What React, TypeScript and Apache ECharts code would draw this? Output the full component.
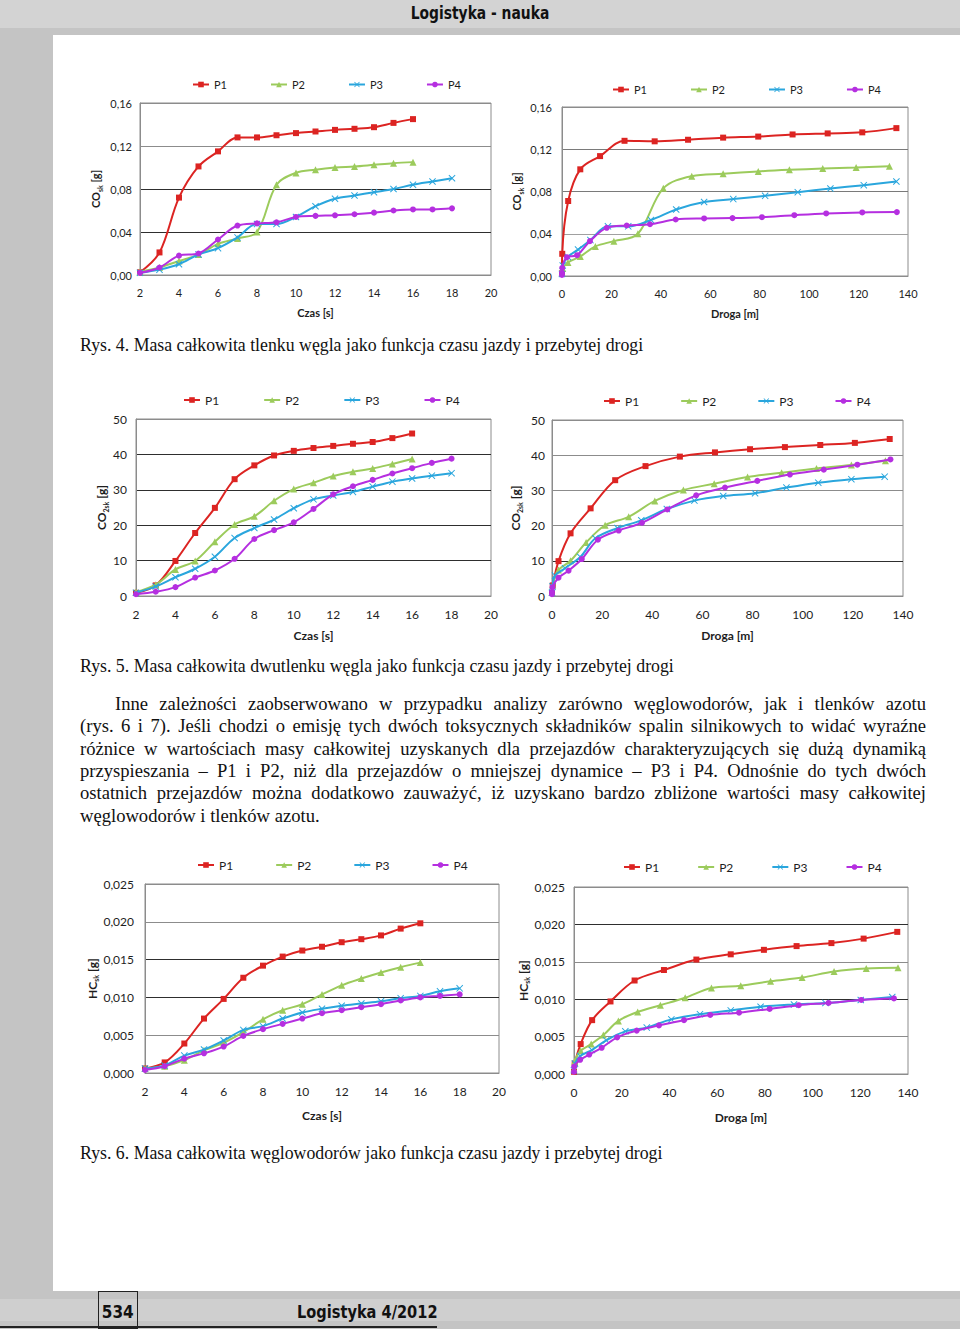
import React, { useEffect, useRef } from "react";
import * as echarts from "echarts";

// ---------- series meta ----------
const NAMES = ["P1", "P2", "P3", "P4"];
const COLORS = ["#dc2422", "#9ccb5c", "#2aa6dd", "#b52fe0"];
const SYMBOLS = [
  "rect",
  "triangle",
  "path://M1,0L5,4L9,0L10,1L6,5L10,9L9,10L5,6L1,10L0,9L4,5L0,1Z",
  "circle",
];
const SYMBOL_SIZES = [6, 7, 7, 6];

// ---------- time axes ----------
const TIME_P1P2 = [2, 3, 4, 5, 6, 7, 8, 9, 10, 11, 12, 13, 14, 15, 16];
const TIME_P3P4 = [2, 3, 4, 5, 6, 7, 8, 9, 10, 11, 12, 13, 14, 15, 16, 17, 18];

// ---------- Rys. 4 : CO vs time ----------
const coTimeP1 = [0.0025, 0.021, 0.072, 0.101, 0.115, 0.128, 0.128, 0.13, 0.132, 0.1335, 0.135, 0.136, 0.1375, 0.1415, 0.145];
const coTimeP2 = [0.003, 0.007, 0.013, 0.019, 0.029, 0.034, 0.04, 0.084, 0.095, 0.098, 0.1, 0.101, 0.1025, 0.104, 0.105];
const coTimeP3 = [0.002, 0.005, 0.01, 0.019, 0.025, 0.035, 0.0475, 0.0475, 0.054, 0.064, 0.071, 0.074, 0.077, 0.08, 0.084, 0.087, 0.09];
const coTimeP4 = [0.002, 0.007, 0.018, 0.02, 0.033, 0.046, 0.048, 0.049, 0.054, 0.055, 0.0555, 0.0565, 0.058, 0.06, 0.061, 0.061, 0.062];

// ---------- Rys. 4 : CO vs distance ----------
const coDistP1X = [0, 0.1, 2.5, 7.4, 15.4, 25.3, 37.5, 51, 65.2, 79.4, 93.3, 107.5, 121.5, 135.3];
const coDistP1Y = [0.0025, 0.021, 0.071, 0.101, 0.1135, 0.128, 0.1275, 0.129, 0.131, 0.132, 0.134, 0.135, 0.136, 0.14];
const coDistP2X = [0, 0.3, 2.4, 7.4, 13.5, 21.0, 30.7, 41.0, 52.5, 65.2, 79.4, 92.0, 105.5, 119.0, 132.5];
const coDistP2Y = [0.003, 0.007, 0.0128, 0.0185, 0.028, 0.033, 0.04, 0.083, 0.0945, 0.0967, 0.099, 0.1005, 0.1017, 0.1027, 0.104];
const coDistP3X = [0, 0.3, 2.4, 6.5, 11.5, 18.6, 26.8, 36.0, 46.2, 57.5, 69.3, 82.2, 95.4, 108.6, 122.1, 135.3];
const coDistP3Y = [0.002, 0.01, 0.018, 0.025, 0.034, 0.047, 0.047, 0.053, 0.063, 0.07, 0.0728, 0.0759, 0.0794, 0.0828, 0.086, 0.0894];
const coDistP4X = [0, 0, 0.1, 2.0, 6.1, 11.3, 18.1, 26.2, 35.6, 46.0, 57.5, 69.0, 80.9, 94.0, 106.9, 121.5, 135.5];
const coDistP4Y = [0.001, 0.003, 0.0077, 0.0178, 0.0197, 0.033, 0.0456, 0.0478, 0.049, 0.0535, 0.0545, 0.0548, 0.0557, 0.0576, 0.0592, 0.0602, 0.0605];

// ---------- Rys. 5 : CO2 vs time ----------
const co2TimeP1 = [0.9, 3.0, 9.9, 17.8, 24.9, 33.0, 36.9, 39.7, 41.0, 41.8, 42.4, 43.0, 43.5, 44.6, 45.9];
const co2TimeP2 = [1.1, 3.2, 7.5, 9.9, 15.3, 20.2, 22.5, 26.9, 30.2, 32.0, 33.9, 35.1, 36.0, 37.3, 38.7];
const co2TimeP3 = [0.9, 2.7, 5.3, 7.7, 11.1, 16.4, 19.2, 21.6, 24.8, 27.3, 28.4, 29.4, 30.9, 32.3, 33.2, 34.0, 34.7];
const co2TimeP4 = [0.5, 1.2, 2.5, 5.2, 7.2, 10.5, 16.1, 18.6, 20.8, 24.6, 28.7, 31.0, 32.8, 34.6, 36.1, 37.6, 38.8];

// ---------- Rys. 5 : CO2 vs distance ----------
const co2DistP1X = [0, 0.3, 2.6, 7.4, 15.4, 25.2, 37.3, 51, 65, 79, 92.9, 107, 120.8, 134.7];
const co2DistP1Y = [0.9, 3.0, 9.9, 17.8, 24.9, 32.9, 36.9, 39.6, 40.8, 41.7, 42.3, 42.9, 43.5, 44.6];
const co2DistP2X = [0, 0.3, 2.6, 7.4, 13.6, 21.2, 30.6, 41, 52.4, 64.7, 78, 91.6, 105.5, 119.4, 133];
const co2DistP2Y = [1.1, 3.2, 7.4, 10.0, 15.2, 20.1, 22.5, 27.0, 30.1, 31.9, 33.8, 35.0, 36.2, 37.2, 38.4];
const co2DistP3X = [0, 0.2, 1.2, 5.2, 11.3, 17.3, 26.1, 35.6, 45.8, 56.8, 68.3, 81, 93.5, 106.2, 119.4, 132.7];
const co2DistP3Y = [0.9, 2.7, 5.8, 7.9, 11.1, 16.4, 19.3, 21.5, 24.7, 27.1, 28.4, 29.2, 30.8, 32.2, 33.2, 33.9];
const co2DistP4X = [0, 0, 0.2, 2.6, 6.6, 11.9, 18.3, 26.6, 35.9, 46, 57.5, 69, 81.9, 94.9, 108.4, 121.8, 135];
const co2DistP4Y = [0.5, 1.2, 2.5, 5.2, 7.2, 10.5, 16.0, 18.6, 20.8, 24.6, 28.6, 30.8, 32.7, 34.5, 35.9, 37.3, 38.8];

// ---------- Rys. 6 : HC vs time ----------
const hcTimeP1 = [0.0006, 0.0014, 0.0039, 0.0072, 0.0098, 0.0126, 0.0142, 0.0154, 0.0162, 0.0167, 0.0173, 0.0177, 0.0182, 0.0191, 0.0198];
const hcTimeP2 = [0.0006, 0.0009, 0.0017, 0.003, 0.004, 0.0054, 0.0071, 0.0083, 0.0091, 0.0104, 0.0116, 0.0125, 0.0133, 0.014, 0.0146];
const hcTimeP3 = [0.0006, 0.001, 0.0023, 0.0031, 0.0043, 0.0057, 0.0062, 0.0072, 0.008, 0.0085, 0.0089, 0.0092, 0.0095, 0.0099, 0.0102, 0.0108, 0.0112];
const hcTimeP4 = [0.0004, 0.0009, 0.0019, 0.0026, 0.0035, 0.0049, 0.0058, 0.0065, 0.0072, 0.0079, 0.0083, 0.0087, 0.0091, 0.0096, 0.01, 0.0102, 0.0104];

// ---------- Rys. 6 : HC vs distance ----------
const hcDistP1X = [0, 0.3, 2.8, 7.6, 15.3, 25.4, 37.7, 51.3, 65.7, 79.6, 93.3, 107.9, 121.4, 135.5];
const hcDistP1Y = [0.0003, 0.0014, 0.004, 0.0072, 0.0097, 0.0125, 0.0139, 0.0153, 0.016, 0.0166, 0.0171, 0.0175, 0.0181, 0.019];
const hcDistP2X = [0, 0.3, 2.8, 7.2, 12.3, 18.6, 26.7, 36.2, 46.6, 57.6, 69.9, 82.4, 95.6, 109, 122.5, 135.8];
const hcDistP2Y = [0.0007, 0.0017, 0.0031, 0.004, 0.0052, 0.0071, 0.0083, 0.0092, 0.0102, 0.0115, 0.0118, 0.0124, 0.0129, 0.0137, 0.0141, 0.0142];
const hcDistP3X = [0, 0.4, 2.6, 7.5, 13.5, 21.5, 30.5, 40.8, 52.8, 65.7, 78.2, 92.2, 105.4, 120.2, 133.4];
const hcDistP3Y = [0.0005, 0.0014, 0.0024, 0.0032, 0.0045, 0.0057, 0.0062, 0.0073, 0.008, 0.0085, 0.009, 0.0093, 0.0095, 0.0099, 0.0103];
const hcDistP4X = [0, 0.1, 2.6, 6.4, 11.6, 18.1, 26.3, 35.6, 46.1, 57.1, 69.2, 82, 94.2, 106.7, 120.4, 134.1];
const hcDistP4Y = [0.0003, 0.001, 0.0019, 0.0026, 0.0035, 0.0049, 0.0058, 0.0065, 0.0072, 0.0079, 0.0082, 0.0087, 0.0092, 0.0095, 0.0099, 0.0101];

// ---------- page texts ----------
const HEADER = "Logistyka - nauka";
const CAPTION_4 = "Rys. 4. Masa całkowita tlenku węgla jako funkcja czasu jazdy i przebytej drogi";
const CAPTION_5 = "Rys. 5. Masa całkowita dwutlenku węgla jako funkcja czasu jazdy i przebytej drogi";
const CAPTION_6 = "Rys. 6. Masa całkowita węglowodorów jako funkcja czasu jazdy i przebytej drogi";
const PARAGRAPH_LINES = [
  "Inne zależności zaobserwowano w przypadku analizy zarówno węglowodorów, jak i tlenków azotu",
  "(rys. 6 i 7). Jeśli chodzi o emisję tych dwóch toksycznych składników spalin silnikowych to widać wyraźne",
  "różnice w wartościach masy całkowitej uzyskanych dla przejazdów charakteryzujących się dużą dynamiką",
  "przyspieszania – P1 i P2, niż dla przejazdów o mniejszej dynamice – P3 i P4. Odnośnie do tych dwóch",
  "ostatnich przejazdów można dodatkowo zauważyć, iż uzyskano bardzo zbliżone wartości masy całkowitej",
  "węglowodorów i tlenków azotu.",
];
const PAGE_NO = "534";
const FOOTER = "Logistyka 4/2012";

const X_TIME = "Czas [s]";
const X_DIST = "Droga [m]";
const Y_CO = "{t|CO}{s|sk}{t| [g]}";
const Y_CO2 = "{t|CO}{s|2sk}{t| [g]}";
const Y_HC = "{t|HC}{s|sk}{t| [g]}";

const pairs = (xs: number[], ys: number[]) => xs.map((x, i) => [x, ys[i]]);
const timeData = (a: number[], b: number[], c: number[], d: number[]) => [
  pairs(TIME_P1P2, a),
  pairs(TIME_P1P2, b),
  pairs(TIME_P3P4, c),
  pairs(TIME_P3P4, d),
];

const DARK = "#2e2e2e";
const LIGHT = "#8c8c8c";
const EDGE = "#8c8c8c";

type Cfg = {
  box: number[]; // left, top, width, height
  x: number[]; // min, max, step
  y: number[]; // max, step
  dec: number;
  yName: string;
  xName: string;
  yGap: number;
  xGap: number;
  yMargin: number;
  fs: number;
  legend: number[]; // left, centerY, gap
  split: string[];
  data: number[][][];
};

const CHARTS: Cfg[] = [
  {
    box: [140, 103, 351, 172], x: [2, 20, 2], y: [0.16, 0.04], dec: 2,
    yName: Y_CO, xName: X_TIME, yGap: 37, xGap: 32, yMargin: 8, fs: 11,
    legend: [192, 86, 43], split: [EDGE, DARK, DARK, LIGHT, EDGE],
    data: timeData(coTimeP1, coTimeP2, coTimeP3, coTimeP4),
  },
  {
    box: [562, 107, 346, 169], x: [0, 140, 20], y: [0.16, 0.04], dec: 2,
    yName: Y_CO, xName: X_DIST, yGap: 38, xGap: 32, yMargin: 10, fs: 11,
    legend: [612, 91, 43], split: [EDGE, "#a0a0a0", "#7a7a7a", "#7a7a7a", EDGE],
    data: [pairs(coDistP1X, coDistP1Y), pairs(coDistP2X, coDistP2Y), pairs(coDistP3X, coDistP3Y), pairs(coDistP4X, coDistP4Y)],
  },
  {
    box: [136, 419, 355, 177], x: [2, 20, 2], y: [50, 10], dec: 0,
    yName: Y_CO2, xName: X_TIME, yGap: 26, xGap: 33, yMargin: 9, fs: 12,
    legend: [183, 401, 44], split: [EDGE, DARK, DARK, DARK, DARK, EDGE],
    data: timeData(co2TimeP1, co2TimeP2, co2TimeP3, co2TimeP4),
  },
  {
    box: [552, 420, 351, 176], x: [0, 140, 20], y: [50, 10], dec: 0,
    yName: Y_CO2, xName: X_DIST, yGap: 29, xGap: 33, yMargin: 7, fs: 12,
    legend: [603, 402, 41], split: [EDGE, DARK, LIGHT, LIGHT, LIGHT, EDGE],
    data: [pairs(co2DistP1X, co2DistP1Y), pairs(co2DistP2X, co2DistP2Y), pairs(co2DistP3X, co2DistP3Y), pairs(co2DistP4X, co2DistP4Y)],
  },
  {
    box: [145, 884, 354, 189], x: [2, 20, 2], y: [0.025, 0.005], dec: 3,
    yName: Y_HC, xName: X_TIME, yGap: 44, xGap: 36, yMargin: 11, fs: 12,
    legend: [197, 866, 42], split: [EDGE, LIGHT, DARK, DARK, LIGHT, EDGE],
    data: timeData(hcTimeP1, hcTimeP2, hcTimeP3, hcTimeP4),
  },
  {
    box: [574, 887, 334, 187], x: [0, 140, 20], y: [0.025, 0.005], dec: 3,
    yName: Y_HC, xName: X_DIST, yGap: 41, xGap: 37, yMargin: 9, fs: 12,
    legend: [623, 868, 38], split: [EDGE, LIGHT, DARK, LIGHT, DARK, EDGE],
    data: [pairs(hcDistP1X, hcDistP1Y), pairs(hcDistP2X, hcDistP2Y), pairs(hcDistP3X, hcDistP3Y), pairs(hcDistP4X, hcDistP4Y)],
  },
];

const FONT = "Lato, 'Open Sans', sans-serif";
const TXT = "#1e1e1e";

function buildOption() {
  return {
    animation: false,
    textStyle: { fontFamily: FONT },
    grid: CHARTS.map((c) => ({
      left: c.box[0], top: c.box[1], width: c.box[2], height: c.box[3],
      show: true, borderColor: EDGE, borderWidth: 1, backgroundColor: "transparent",
      containLabel: false, outerBoundsMode: "none",
    })),
    xAxis: CHARTS.map((c, i) => ({
      type: "value", gridIndex: i, min: c.x[0], max: c.x[1], interval: c.x[2],
      name: c.xName, nameLocation: "middle", nameGap: c.xGap,
      nameTextStyle: { fontFamily: FONT, fontWeight: "bold", fontSize: c.fs, color: TXT },
      axisLine: { show: true, onZero: false, lineStyle: { color: EDGE, width: 1 } },
      axisTick: { show: false },
      splitLine: { show: false },
      axisLabel: { fontFamily: FONT, fontSize: c.fs, color: TXT, margin: 12 },
    })),
    yAxis: CHARTS.map((c, i) => ({
      type: "value", gridIndex: i, min: 0, max: c.y[0], interval: c.y[1],
      name: c.yName, nameLocation: "middle", nameGap: c.yGap,
      nameTextStyle: {
        fontFamily: FONT, fontWeight: "bold", fontSize: c.fs, color: TXT,
        rich: {
          t: { fontFamily: FONT, fontWeight: "bold", fontSize: c.fs, color: TXT, lineHeight: 15 },
          s: { fontFamily: FONT, fontWeight: "bold", fontSize: 7, color: TXT, lineHeight: 7, verticalAlign: "bottom" },
        },
      },
      axisLine: { show: true, lineStyle: { color: EDGE, width: 1 } },
      axisTick: { show: false },
      splitLine: { show: true, lineStyle: { color: c.split, width: 1 } },
      axisLabel: {
        fontFamily: FONT, fontSize: c.fs, color: TXT, margin: c.yMargin,
        formatter: (v: number) => v.toFixed(c.dec).replace(".", ","),
      },
    })),
    legend: CHARTS.map((c) => ({
      left: c.legend[0], top: c.legend[1] - 7, itemGap: c.legend[2],
      itemWidth: 16, itemHeight: 7, itemTextGap: 3, padding: 0,
      selectedMode: false, data: NAMES,
      textStyle: { fontFamily: FONT, fontSize: c.fs, color: TXT },
    })),
    series: CHARTS.flatMap((c, i) =>
      c.data.map((d, k) => ({
        type: "line", name: NAMES[k], xAxisIndex: i, yAxisIndex: i, data: d,
        smooth: 0.35, symbol: SYMBOLS[k], symbolSize: SYMBOL_SIZES[k], showAllSymbol: true,
        lineStyle: { color: COLORS[k], width: 2 },
        itemStyle: { color: COLORS[k], borderWidth: 0 },
        z: 3 + k,
      }))
    ),
  };
}

const abs = (l: number, t: number, w: number, h: number, extra: any = {}) => ({
  position: "absolute" as const, left: l, top: t, width: w, height: h, ...extra,
});

export default function App() {
  const ref = useRef<HTMLDivElement>(null);
  useEffect(() => {
    if (!ref.current) return;
    const chart = echarts.init(ref.current, undefined, { renderer: "svg", width: 960, height: 1329 });
    chart.setOption(buildOption() as any);
    return () => chart.dispose();
  }, []);

  const serif = { fontFamily: "'Liberation Serif', 'Times New Roman', serif", color: "#111" };
  const condensed = { fontFamily: "'DejaVu Sans', sans-serif", fontWeight: "bold" as const, color: "#111", fontSize: 18, lineHeight: "22px", whiteSpace: "nowrap" as const };
  const caption = { ...serif, fontSize: 17.8, lineHeight: "20px", whiteSpace: "nowrap" as const };

  return (
    <div style={abs(0, 0, 960, 1329, { background: "#c4c4c4", overflow: "hidden" })}>
      <div style={abs(0, 0, 960, 28, { background: "#d3d3d3" })} />
      <div style={abs(0, 1299, 960, 22, { background: "#cfcfcf" })} />
      <div style={abs(53, 35, 907, 1256, { background: "#ffffff" })} />

      <div style={abs(0, 2, 960, 22, { textAlign: "center" })}>
        <span style={{ ...condensed, display: "inline-block", transform: "scaleX(0.77)" }}>{HEADER}</span>
      </div>

      <div style={abs(80, 335, 750, 20, caption)}>{CAPTION_4}</div>
      <div style={abs(80, 656, 750, 20, caption)}>{CAPTION_5}</div>
      <div style={abs(80, 1143, 750, 20, caption)}>{CAPTION_6}</div>

      {PARAGRAPH_LINES.map((line, i) => {
        const last = i === PARAGRAPH_LINES.length - 1;
        const left = i === 0 ? 115 : 80;
        return (
          <div
            key={i}
            style={abs(left, 693 + i * 22.3, 926 - left, 22, {
              ...serif, fontSize: 18.6, lineHeight: "22px",
              textAlign: last ? "left" : "justify", textAlignLast: last ? "left" : "justify",
            })}
          >
            {line}
          </div>
        );
      })}

      <div style={abs(98, 1291, 40, 38, { border: "1px solid #222", boxSizing: "border-box" })} />
      <div style={abs(0, 1326, 437, 2, { background: "#222" })} />
      <div style={abs(98, 1301, 40, 22, { textAlign: "center" })}>
        <span style={{ ...condensed, display: "inline-block", transform: "scaleX(0.85)" }}>{PAGE_NO}</span>
      </div>
      <div style={abs(297, 1301, 200, 22)}>
        <span style={{ ...condensed, display: "inline-block", transform: "scaleX(0.81)", transformOrigin: "left center" }}>{FOOTER}</span>
      </div>

      <div ref={ref} style={abs(0, 0, 960, 1329)} />
    </div>
  );
}
